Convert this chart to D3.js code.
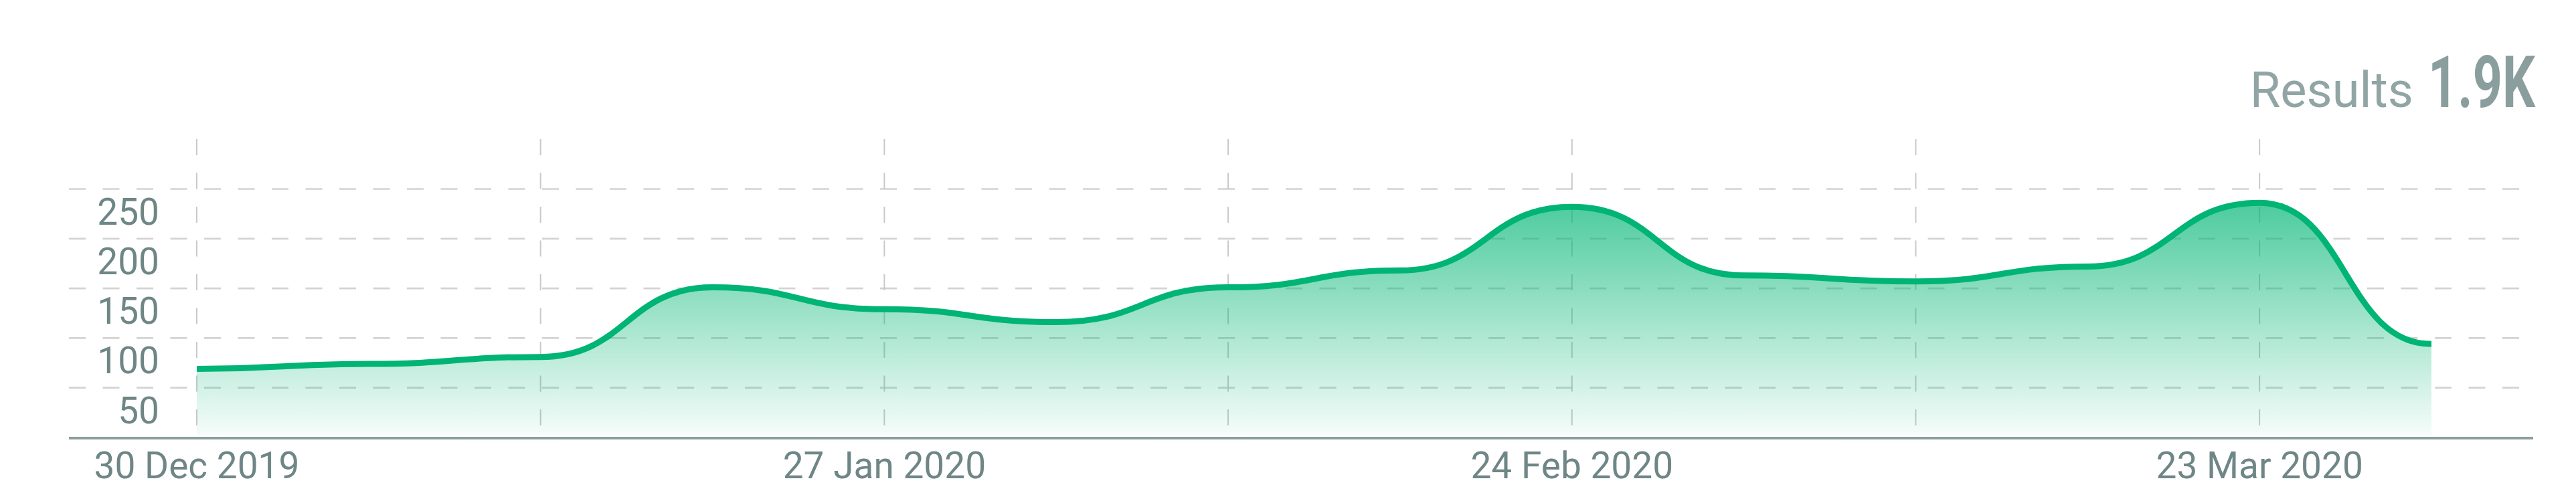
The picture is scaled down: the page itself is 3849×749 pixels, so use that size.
<!DOCTYPE html>
<html>
<head>
<meta charset="utf-8">
<script src="https://cdn.jsdelivr.net/npm/d3@7"></script>
<style>
  html, body { margin: 0; padding: 0; background: #ffffff; }
  svg { display: block; }
</style>
</head>
<body>
<div id="chart"></div>
<script>
// ---- data ----
const weekLabels = ["2019-12-30","2020-01-06","2020-01-13","2020-01-20","2020-01-27","2020-02-03","2020-02-10","2020-02-17","2020-02-24","2020-03-02","2020-03-09","2020-03-16","2020-03-23","2020-03-30"];
const resultCounts = [69, 74, 81, 151, 129, 116, 151, 168, 232, 163, 157, 172, 236, 94];
const yTickValues = [50, 100, 150, 200, 250];
const gridDateLabels = ["2019-12-30","2020-01-13","2020-01-27","2020-02-10","2020-02-24","2020-03-09","2020-03-23"];
const axisDateLabels = ["2019-12-30","2020-01-27","2020-02-24","2020-03-23"];
const titleLabel = "Results";
const totalLabel = "1.9K";

// ---- layout ----
const W = 3849, H = 749;
const plotLeft = 103, plotRight = 3785;
const parse = d3.timeParse("%Y-%m-%d");
const fmt = d3.timeFormat("%-d %b %Y");
const dates = weekLabels.map(parse);
const data = dates.map((d, i) => ({ date: d, value: resultCounts[i] }));

const x = d3.scaleTime().domain([dates[0], dates[dates.length - 1]]).range([294, 3633]);
const y = d3.scaleLinear().domain([0, 250]).range([654, 282.5]);

const svg = d3.select("#chart").append("svg")
  .attr("width", W).attr("height", H)
  .attr("viewBox", `0 0 ${W} ${H}`);

const defs = svg.append("defs");
const grad = defs.append("linearGradient")
  .attr("id", "areaGrad")
  .attr("gradientUnits", "userSpaceOnUse")
  .attr("x1", 0).attr("x2", 0)
  .attr("y1", y(d3.max(resultCounts))).attr("y2", y(0));
grad.append("stop").attr("offset", 0).attr("stop-color", "#00b574").attr("stop-opacity", 0.7);
grad.append("stop").attr("offset", 1).attr("stop-color", "#00b574").attr("stop-opacity", 0.03);

// horizontal grid lines
svg.append("g").selectAll("line").data(yTickValues).join("line")
  .attr("x1", plotLeft).attr("x2", plotRight)
  .attr("y1", d => y(d)).attr("y2", d => y(d))
  .attr("stroke", "#d3d3d3").attr("stroke-width", 2.7)
  .attr("stroke-dasharray", "25,25.5");

// vertical grid lines
svg.append("g").selectAll("line").data(gridDateLabels.map(parse)).join("line")
  .attr("x1", d => x(d)).attr("x2", d => x(d))
  .attr("y1", 208).attr("y2", 640)
  .attr("stroke", "#c9c9c9").attr("stroke-width", 2)
  .attr("stroke-dasharray", "24,26.5");

// area + line
const area = d3.area()
  .x(d => x(d.date)).y0(y(0) - 4).y1(d => y(d.value))
  .curve(d3.curveBumpX);
const line = d3.line()
  .x(d => x(d.date)).y(d => y(d.value))
  .curve(d3.curveBumpX);

svg.append("path").datum(data).attr("d", area).attr("fill", "url(#areaGrad)");
svg.append("path").datum(data).attr("d", line)
  .attr("fill", "none").attr("stroke", "#00b475").attr("stroke-width", 9)
  .attr("stroke-linejoin", "round");

// x axis line
svg.append("line")
  .attr("x1", plotLeft).attr("x2", plotRight)
  .attr("y1", y(0) + 1).attr("y2", y(0) + 1)
  .attr("stroke", "#8d9d9d").attr("stroke-width", 4);

// y labels
svg.append("g").selectAll("text").data(yTickValues).join("text")
  .attr("x", 238).attr("y", d => y(d) + 53)
  .attr("text-anchor", "end")
  .attr("font-family", "Roboto, sans-serif").attr("font-size", 55)
  .attr("fill", "#6f8686")
  .text(d => d);

// x labels
svg.append("g").selectAll("text").data(axisDateLabels.map(parse)).join("text")
  .attr("x", d => x(d)).attr("y", 715)
  .attr("text-anchor", "middle")
  .attr("font-family", "Roboto, sans-serif").attr("font-size", 55)
  .attr("fill", "#6f8686")
  .text(d => fmt(d));

// title
svg.append("text")
  .attr("x", 3606).attr("y", 160).attr("text-anchor", "end")
  .attr("font-family", "Roboto, sans-serif").attr("font-size", 74)
  .attr("fill", "#91a5a5")
  .text(titleLabel);

const totalG = svg.append("g");
const totalText = totalG.append("text")
  .attr("x", 0).attr("y", 0).attr("text-anchor", "end")
  .attr("font-family", "Roboto, sans-serif").attr("font-weight", 700).attr("font-size", 108)
  .attr("fill", "#8a9e9e")
  .text(totalLabel);
const natural = totalText.node().getComputedTextLength() || 216;
const sx = Math.min(1, 160 / natural);
totalG.attr("transform", `translate(3788,160) scale(${sx},1)`);
</script>
</body>
</html>
